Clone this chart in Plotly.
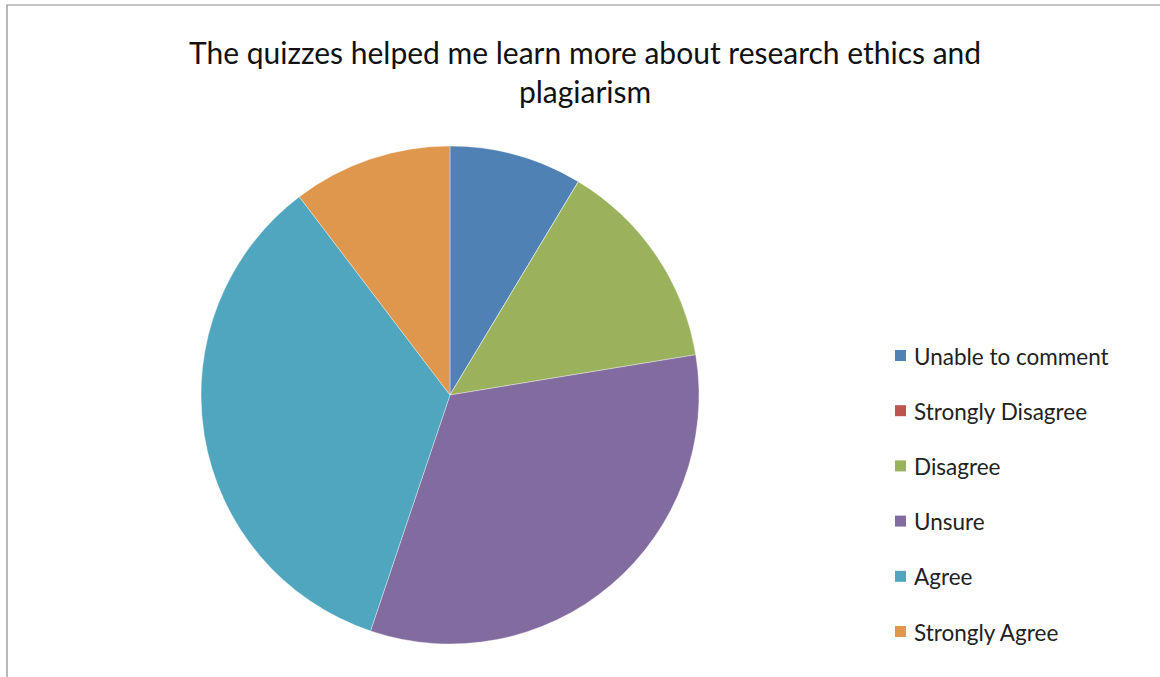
import plotly.graph_objects as go

labels = ["Unable to comment", "Strongly Disagree", "Disagree", "Unsure", "Agree", "Strongly Agree"]
values = [5, 0, 8, 19, 20, 6]
colors = ["#4F81B5", "#BE5450", "#9BB25D", "#826B9F", "#4FA6BE", "#DF964D"]
title_text = "The quizzes helped me learn more about research ethics and<br>plagiarism"

W, H = 1160, 677
FONT = "Lato"

fig = go.Figure()
fig.add_trace(go.Pie(
    labels=labels, values=values, sort=False, direction="clockwise", rotation=0,
    marker=dict(colors=colors, line=dict(color="rgba(255,255,255,0.6)", width=0.6)),
    textinfo="none", hoverinfo="label+value+percent", showlegend=False,
    domain=dict(x=[(450 - 249) / W, (450 + 249) / W], y=[1 - (395 + 249) / H, 1 - (395 - 249) / H]),
))

shapes = [dict(type="rect", xref="paper", yref="paper", x0=7 / W, x1=1.02, y0=-0.02, y1=1 - 5 / H,
               line=dict(color="#8a8a8a", width=1.2), fillcolor="rgba(0,0,0,0)", layer="below")]
annotations = [dict(text=title_text, xref="paper", yref="paper", x=585 / W, y=1 - 71 / H,
                    xanchor="center", yanchor="middle", showarrow=False, align="center",
                    font=dict(family=FONT, size=30, color="#111111"))]
y0, dy = 355, 55.2
for i, (lab, col) in enumerate(zip(labels, colors)):
    yc = y0 + i * dy
    shapes.append(dict(type="rect", xref="paper", yref="paper",
                       x0=895 / W, x1=906 / W, y0=1 - (yc + 6) / H, y1=1 - (yc - 5) / H,
                       fillcolor=col, line=dict(width=0)))
    annotations.append(dict(text=lab, xref="paper", yref="paper", x=912 / W, y=1 - (yc + 1) / H,
                            xanchor="left", yanchor="middle", showarrow=False,
                            font=dict(family=FONT, size=22.5, color="#222222")))

fig.update_layout(
    width=W, height=H, margin=dict(l=0, r=0, t=0, b=0),
    paper_bgcolor="white", plot_bgcolor="white",
    shapes=shapes, annotations=annotations,
)
fig.write_html("out.html", config={"displayModeBar": False},
               post_script="document.body.style.margin='0';")
